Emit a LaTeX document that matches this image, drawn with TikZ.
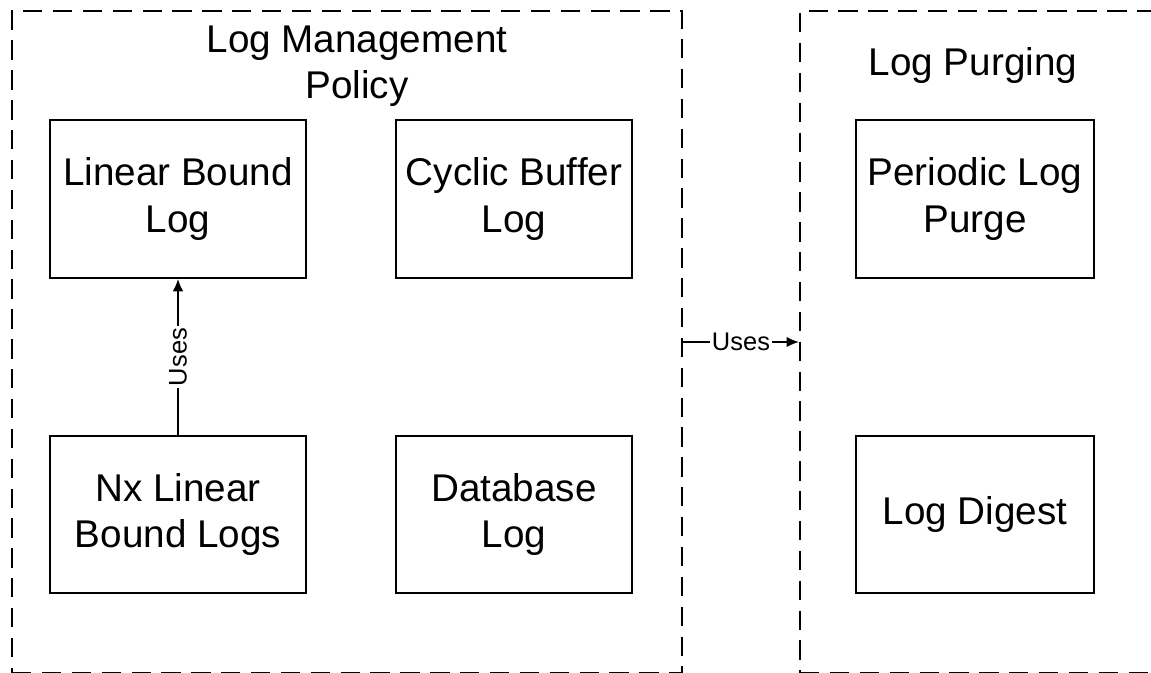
\documentclass[tikz,border=0pt]{standalone}
\usepackage{fontspec}
\setmainfont{Liberation Sans}
\usetikzlibrary{arrows.meta}

\begin{document}
\begin{tikzpicture}[
  x=0.02cm, y=-0.02cm,
  group/.style={draw, line width=1.4pt, dash pattern=on 11pt off 6pt, inner sep=0pt},
  box/.style={draw, line width=1.1pt, align=center, inner sep=0pt, font=\fontsize{22}{26.5}\selectfont},
  title/.style={align=center, font=\fontsize{22}{26.5}\selectfont},
  arrow/.style={-{Latex[length=7pt,width=6pt]}, line width=0.8pt},
  lbl/.style={fill=white, inner sep=1pt, font=\fontsize{14.5}{17}\selectfont}
]
\useasboundingbox (0,0) rectangle (1151,672);

% Groups
\node[group, minimum width=13.4cm, minimum height=13.24cm] (policy) at (347,342) {};
\node[group, minimum width=7.4cm, minimum height=13.24cm] (purging) at (985,342) {};
\node[title] (policytitle) at (357,66) {Log Management\\Policy};
\node[title] (purgingtitle) at (973,66) {Log Purging};

% Nodes
\node[box, minimum width=5.12cm, minimum height=3.16cm] (linear) at (178,199) {Linear Bound\\Log};
\node[box, minimum width=4.72cm, minimum height=3.16cm] (cyclic) at (514,199) {Cyclic Buffer\\Log};
\node[box, minimum width=5.12cm, minimum height=3.14cm] (nxlinear) at (178,514.5) {Nx Linear\\Bound Logs};
\node[box, minimum width=4.72cm, minimum height=3.14cm] (database) at (514,514.5) {Database\\Log};
\node[box, minimum width=4.76cm, minimum height=3.16cm] (periodic) at (975,199) {Periodic Log\\Purge};
\node[box, minimum width=4.76cm, minimum height=3.14cm] (digest) at (975,514.5) {Log Digest};

% Arrows
\draw[arrow] (nxlinear.north) -- node[lbl, rotate=90] {Uses} (linear.south);
\draw[arrow] (policy.east) -- node[lbl] {Uses} (purging.west);

\end{tikzpicture}
\end{document}
